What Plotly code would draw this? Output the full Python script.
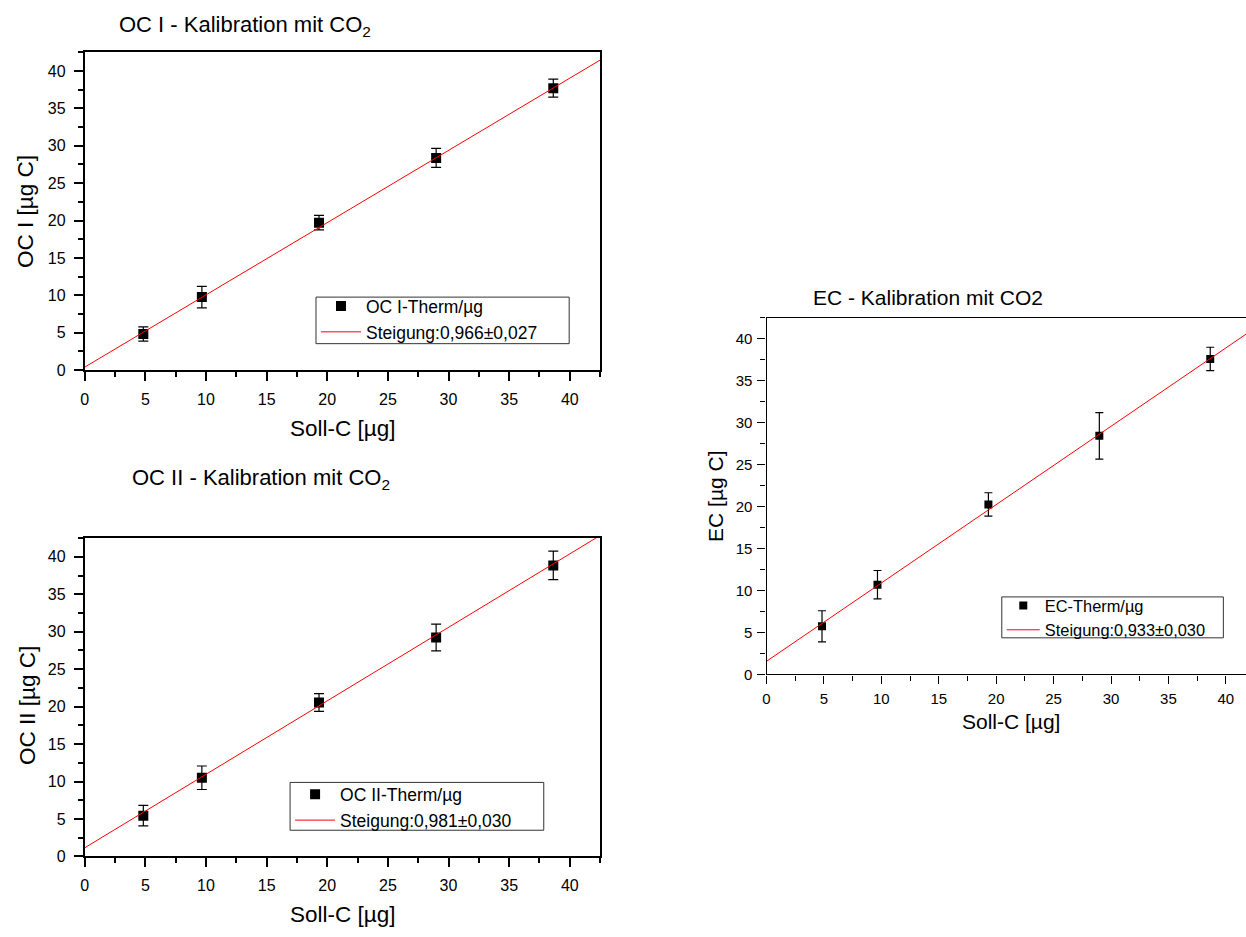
import plotly.graph_objects as go

# Soll-C (target carbon mass, µg) for the five calibration points
soll_c = [4.83, 9.66, 19.32, 28.98, 38.64]

# OC I
oc1_values = [4.82, 9.76, 19.72, 28.38, 37.70]
oc1_errors = [0.95, 1.44, 0.97, 1.26, 1.20]
oc1_slope, oc1_intercept = 0.966, 0.40
oc1_fit_label = "Steigung:0,966±0,027"

# OC II
oc2_values = [5.44, 10.50, 20.54, 29.22, 38.85]
oc2_errors = [1.37, 1.57, 1.19, 1.78, 1.90]
oc2_slope, oc2_intercept = 0.981, 1.15
oc2_fit_label = "Steigung:0,981±0,030"

# EC
ec_values = [5.74, 10.69, 20.25, 28.42, 37.58]
ec_errors = [1.85, 1.69, 1.39, 2.77, 1.39]
ec_slope, ec_intercept = 0.933, 1.57
ec_fit_label = "Steigung:0,933±0,030"

W, H = 1246, 937
FONT = "Arial, Liberation Sans, sans-serif"
AX_MAX = 42.5
RIGHT_X_MAX = (1246 - 765) / 11.52


def fx(px):
    return px / W


def fy(py):
    return 1 - py / H


fig = go.Figure()


def add_panel(xs, ys, errs, slope, intercept, name, fit_name, xa, ya, legend, msize, cap):
    fig.add_trace(go.Scatter(
        x=xs, y=ys, mode="markers", name=name,
        marker=dict(symbol="square", size=msize, color="black"),
        error_y=dict(type="data", array=errs, visible=True, color="black",
                     thickness=1.2, width=cap),
        xaxis=xa, yaxis=ya, legend=legend,
    ))
    line_x = [0, AX_MAX]
    line_y = [slope * v + intercept for v in line_x]
    fig.add_trace(go.Scatter(
        x=line_x, y=line_y, mode="lines", name=fit_name,
        line=dict(color="red", width=1),
        xaxis=xa, yaxis=ya, legend=legend,
    ))


add_panel(soll_c, oc1_values, oc1_errors, oc1_slope, oc1_intercept,
          "OC I-Therm/µg", oc1_fit_label, "x", "y", "legend", 10, 5)
add_panel(soll_c, oc2_values, oc2_errors, oc2_slope, oc2_intercept,
          "OC II-Therm/µg", oc2_fit_label, "x2", "y2", "legend2", 10, 5)
add_panel(soll_c, ec_values, ec_errors, ec_slope, ec_intercept,
          "EC-Therm/µg", ec_fit_label, "x3", "y3", "legend3", 8, 4)

tick_vals = [0, 5, 10, 15, 20, 25, 30, 35, 40]
minor_vals = [2.5, 7.5, 12.5, 17.5, 22.5, 27.5, 32.5, 37.5, 42.5]


def axis(domain, rng, anchor, mirror, tick_size, lw, ticklen, standoff):
    return dict(
        domain=domain, range=rng, anchor=anchor,
        tickvals=tick_vals, ticks="outside", ticklen=ticklen, tickwidth=lw,
        tickcolor="black", showline=True, linecolor="black", linewidth=lw,
        mirror=mirror, showgrid=False, zeroline=False,
        ticklabelstandoff=standoff,
        tickfont=dict(family=FONT, size=tick_size, color="black"),
        minor=dict(tickvals=minor_vals, ticks="outside", ticklen=5,
                   tickwidth=lw, tickcolor="black", showgrid=False),
    )


left_dom = [fx(81), fx(598)]
fig.update_layout(
    width=W, height=H,
    margin=dict(l=0, r=0, t=0, b=0),
    paper_bgcolor="white", plot_bgcolor="white",
    showlegend=True,
    xaxis=axis(left_dom, [0, AX_MAX], "y", True, 16, 1.8, 9, 5),
    yaxis=axis([fy(373.7), fy(52.8)], [0, AX_MAX], "x", True, 16, 1.8, 9, 5),
    xaxis2=axis(left_dom, [0, AX_MAX], "y2", True, 16, 1.8, 9, 5),
    yaxis2=axis([fy(864.7), fy(543.3)], [0, AX_MAX], "x2", True, 16, 1.8, 9, 5),
    xaxis3=axis([fx(765), 1.0], [0, RIGHT_X_MAX], "y3", True, 15, 1.3, 8, 2),
    yaxis3=axis([fy(681), fy(320.7)], [0, AX_MAX], "x3", False, 15, 1.3, 8, 2),
)

# Legend frames (drawn as rectangles so their size can be set freely)
legend_frames = [(313, 300, 567, 347), (287, 790, 541.5, 838.3), (1001, 602.7, 1223.3, 644)]
for x0, y0, x1, y1 in legend_frames:
    fig.add_shape(type="rect", xref="paper", yref="paper",
                  x0=fx(x0), x1=fx(x1), y0=fy(y1), y1=fy(y0),
                  line=dict(color="#333333", width=1), fillcolor="white", layer="above")

legend_common = dict(
    bgcolor="rgba(0,0,0,0)", borderwidth=0,
    xanchor="left", yanchor="top", tracegroupgap=0,
)
fig.update_layout(
    legend=dict(x=fx(313), y=fy(291), itemwidth=40,
                font=dict(family=FONT, size=17.5, color="black"), **legend_common),
    legend2=dict(x=fx(287), y=fy(784), itemwidth=40,
                 font=dict(family=FONT, size=17.5, color="black"), **legend_common),
    legend3=dict(x=fx(1001), y=fy(594), itemwidth=33,
                 font=dict(family=FONT, size=16.4, color="black"), **legend_common),
)

# Panel titles and axis titles
texts = [
    ("OC I - Kalibration mit CO<sub>2</sub>", 242, 26, 0, 22),
    ("OC II - Kalibration mit CO<sub>2</sub>", 258, 484, 0, 22),
    ("EC - Kalibration mit CO2", 927, 300, 0, 21),
    ("Soll-C [µg]", 340, 433, 0, 22.5),
    ("Soll-C [µg]", 340, 923, 0, 22.5),
    ("Soll-C [µg]", 1010, 728, 0, 21),
    ("OC I [µg C]", 22, 213, -90, 22.5),
    ("OC II [µg C]", 23, 712, -90, 22.5),
    ("EC [µg C]", 713, 501, -90, 21),
]
for txt, x, y, ang, size in texts:
    fig.add_annotation(
        text=txt, x=fx(x), y=fy(y), xref="paper", yref="paper",
        xanchor="center", yanchor="middle", showarrow=False, textangle=ang,
        font=dict(family=FONT, size=size, color="black"),
    )

fig.write_html("out.html")
